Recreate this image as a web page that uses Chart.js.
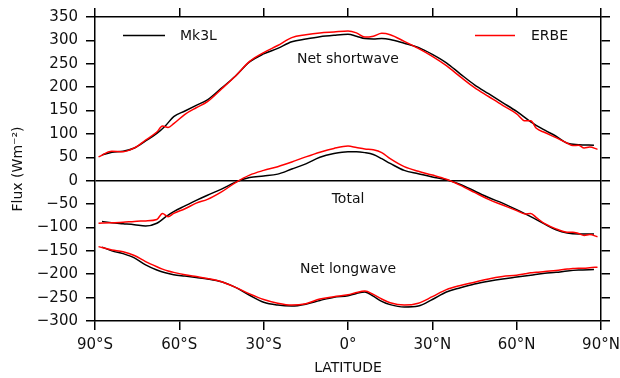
<!DOCTYPE html>
<html lang="en">
<head>
  <meta charset="UTF-8" />
  <title>Zonal mean flux - Mk3L vs ERBE</title>
  <script src="https://cdn.jsdelivr.net/npm/chart.js"></script>
  <style>
    body {
      margin: 0;
      padding: 0;
      background-color: #fff;
    }
    #fluxChart {
      display: block;
    }
  </style>
</head>
<body>

  <canvas id="fluxChart" width="620" height="378"></canvas>

  <script>
    // latitudes (deg, negative = south)
    const latMk3L = [-87.5, -84, -80, -76, -72, -68, -65, -62, -58, -54, -50, -45, -40, -35, -30, -25, -20, -15, -10, -5,
      0, 3, 6, 9, 12, 15, 20, 25, 30, 35, 40, 45, 50, 55, 60, 65, 70, 74, 78, 82, 87.5];
    const latERBE = [-88.75, -84, -80, -76, -72, -68, -66, -64, -62, -58, -54, -50, -45, -40, -35, -30, -25, -20, -15, -10, -5,
      0, 3, 6, 9, 12, 15, 20, 25, 30, 35, 40, 45, 50, 55, 60, 63, 65, 67, 70, 74, 78, 80, 82, 84, 86, 88.75];

    // Mk3L model (Wm-2)
    const swMk3L = [55, 61, 63, 70, 85, 101, 117, 137, 149, 161, 173, 198, 224, 254, 271, 283, 297, 303, 308, 311,
      313, 309, 304, 303, 304, 302, 294, 285, 270, 252, 228, 205, 186, 167, 148, 126, 108, 95, 80, 77, 76];
    const totMk3L = [-87, -90, -92, -94, -97, -91, -78, -66, -54, -42, -31, -18, -3, 7, 10, 14, 25, 36, 50, 58,
      62, 62, 60, 56, 47, 37, 22, 15, 8, 2, -8, -22, -36, -48, -62, -77, -93, -105, -112, -114, -114];
    const lwMk3L = [-142, -150, -156, -165, -180, -191, -197, -201, -204, -207, -210, -216, -228, -245, -260, -266, -268, -264, -256, -249,
      -246, -241, -238, -247, -258, -265, -270, -268, -254, -238, -229, -221, -215, -210, -206, -202, -198, -196, -193, -191, -190];

    // ERBE observations (Wm-2)
    const swERBE = [51, 63, 62, 70, 87, 104, 117, 114, 122, 142, 156, 169, 196, 224, 255, 274, 289, 306, 312, 316, 318,
      320, 316, 307, 309, 315, 312, 298, 283, 266, 246, 222, 199, 180, 161, 143, 128, 128, 112, 103, 92, 80, 75, 76, 70, 72, 67];
    const totERBE = [-91, -90, -89, -87, -86, -83, -70, -77, -70, -60, -48, -40, -24, -4, 12, 22, 30, 40, 51, 61, 69,
      74, 71, 68, 66, 60, 47, 30, 20, 12, 3, -10, -25, -40, -52, -64, -71, -70, -79, -92, -103, -110, -110, -113, -117, -115, -120];
    const lwERBE = [-141, -148, -152, -160, -173, -184, -189, -193, -196, -201, -205, -209, -216, -228, -242, -254, -262, -266, -263, -253, -248,
      -244, -239, -236, -243, -253, -261, -266, -262, -248, -233, -224, -217, -210, -205, -202, -199, -197, -196, -194, -192, -189, -188, -187, -187, -186, -185];

    const xTickValues = [-90, -60, -30, 0, 30, 60, 90];
    const xTickLabels = ['90°S', '60°S', '30°S', '0°', '30°N', '60°N', '90°N'];
    const curveLabels = ['Net shortwave', 'Total', 'Net longwave'];

    const FONT = 'DejaVu Sans';
    const INK = '#111';

    function toPoints(lats, vals) {
      return lats.map((lat, i) => ({ x: lat, y: vals[i] }));
    }

    function lineSet(label, lats, vals, color, order) {
      return {
        label: label,
        data: toPoints(lats, vals),
        borderColor: color,
        borderWidth: 1.5,
        pointRadius: 0,
        cubicInterpolationMode: 'monotone',
        fill: false,
        order: order
      };
    }

    // legend samples and curve names drawn inside the plot
    const annotations = {
      id: 'annotations',
      afterDatasetsDraw(chart) {
        const c = chart.ctx;
        const xs = chart.scales.x;
        const ys = chart.scales.y;
        c.save();
        c.font = '14px ' + FONT;
        c.textBaseline = 'middle';
        c.lineWidth = 1.5;

        c.strokeStyle = '#000';
        c.beginPath(); c.moveTo(123, 35.5); c.lineTo(165, 35.5); c.stroke();
        c.fillStyle = INK;
        c.textAlign = 'left';
        c.fillText('Mk3L', 180, 36);

        c.strokeStyle = '#ff0000';
        c.beginPath(); c.moveTo(475, 35.5); c.lineTo(515, 35.5); c.stroke();
        c.fillText('ERBE', 531, 36);

        c.textAlign = 'center';
        const cx = xs.getPixelForValue(0);
        c.fillText(curveLabels[0], cx, ys.getPixelForValue(260));
        c.fillText(curveLabels[1], cx, ys.getPixelForValue(-39));
        c.fillText(curveLabels[2], cx, ys.getPixelForValue(-190));
        c.restore();
      }
    };

    const tickFont = { family: FONT, size: 15 };

    function fixX(height) {
      return (s) => {
        s.height = height;
        s.paddingLeft = 0;
        s.paddingRight = 0;
      };
    }

    const ctx = document.getElementById('fluxChart').getContext('2d');
    const fluxChart = new Chart(ctx, {
      type: 'line',
      data: {
        datasets: [
          lineSet('Mk3L SW', latMk3L, swMk3L, '#000', 2),
          lineSet('Mk3L total', latMk3L, totMk3L, '#000', 2),
          lineSet('Mk3L LW', latMk3L, lwMk3L, '#000', 2),
          lineSet('ERBE SW', latERBE, swERBE, '#ff0000', 1),
          lineSet('ERBE total', latERBE, totERBE, '#ff0000', 1),
          lineSet('ERBE LW', latERBE, lwERBE, '#ff0000', 1)
        ]
      },
      options: {
        responsive: false,
        animation: false,
        layout: { padding: 0 },
        scales: {
          x: {
            type: 'linear',
            position: 'bottom',
            min: -90,
            max: 90,
            afterBuildTicks: (s) => { s.ticks = xTickValues.map(v => ({ value: v })); },
            afterFit: fixX(57),
            ticks: {
              color: INK,
              font: tickFont,
              padding: 6,
              maxRotation: 0,
              callback: (v) => xTickLabels[xTickValues.indexOf(v)]
            },
            grid: { drawOnChartArea: false, color: '#000', tickLength: 9, lineWidth: 1.5 },
            border: { color: '#000', width: 1.5 },
            title: {
              display: true,
              text: 'LATITUDE',
              color: INK,
              font: { family: FONT, size: 14 },
              padding: { top: 0, bottom: 1.5 }
            }
          },
          xTop: {
            type: 'linear',
            position: 'top',
            min: -90,
            max: 90,
            afterBuildTicks: (s) => { s.ticks = xTickValues.map(v => ({ value: v })); },
            afterFit: fixX(17),
            ticks: { display: false },
            grid: { drawOnChartArea: false, color: '#000', tickLength: 9, lineWidth: 1.5 },
            border: { color: '#000', width: 1.5 }
          },
          y: {
            position: 'left',
            min: -300,
            max: 350,
            afterFit: (s) => { s.width = 95; },
            ticks: {
              stepSize: 50,
              color: INK,
              font: tickFont,
              padding: 8,
              callback: (v) => (v < 0 ? '\u2212' + Math.abs(v) : String(v))
            },
            grid: {
              drawOnChartArea: true,
              color: (c) => (c.tick && c.tick.value === 0 ? '#000' : 'rgba(0,0,0,0)'),
              tickColor: '#000',
              tickLength: 9,
              lineWidth: 1.5
            },
            border: { color: '#000', width: 1.5 },
            title: {
              display: true,
              text: 'Flux (Wm\u207B\u00B2)',
              color: INK,
              font: { family: FONT, size: 14 },
              padding: { top: 9.5, bottom: 0 }
            }
          },
          yRight: {
            position: 'right',
            min: -300,
            max: 350,
            afterFit: (s) => { s.width = 19; },
            ticks: { stepSize: 50, display: false },
            grid: { drawOnChartArea: false, color: '#000', tickLength: 9, lineWidth: 1.5 },
            border: { color: '#000', width: 1.5 }
          }
        },
        plugins: {
          legend: { display: false },
          tooltip: { enabled: false }
        }
      },
      plugins: [annotations]
    });
  </script>

</body>
</html>
